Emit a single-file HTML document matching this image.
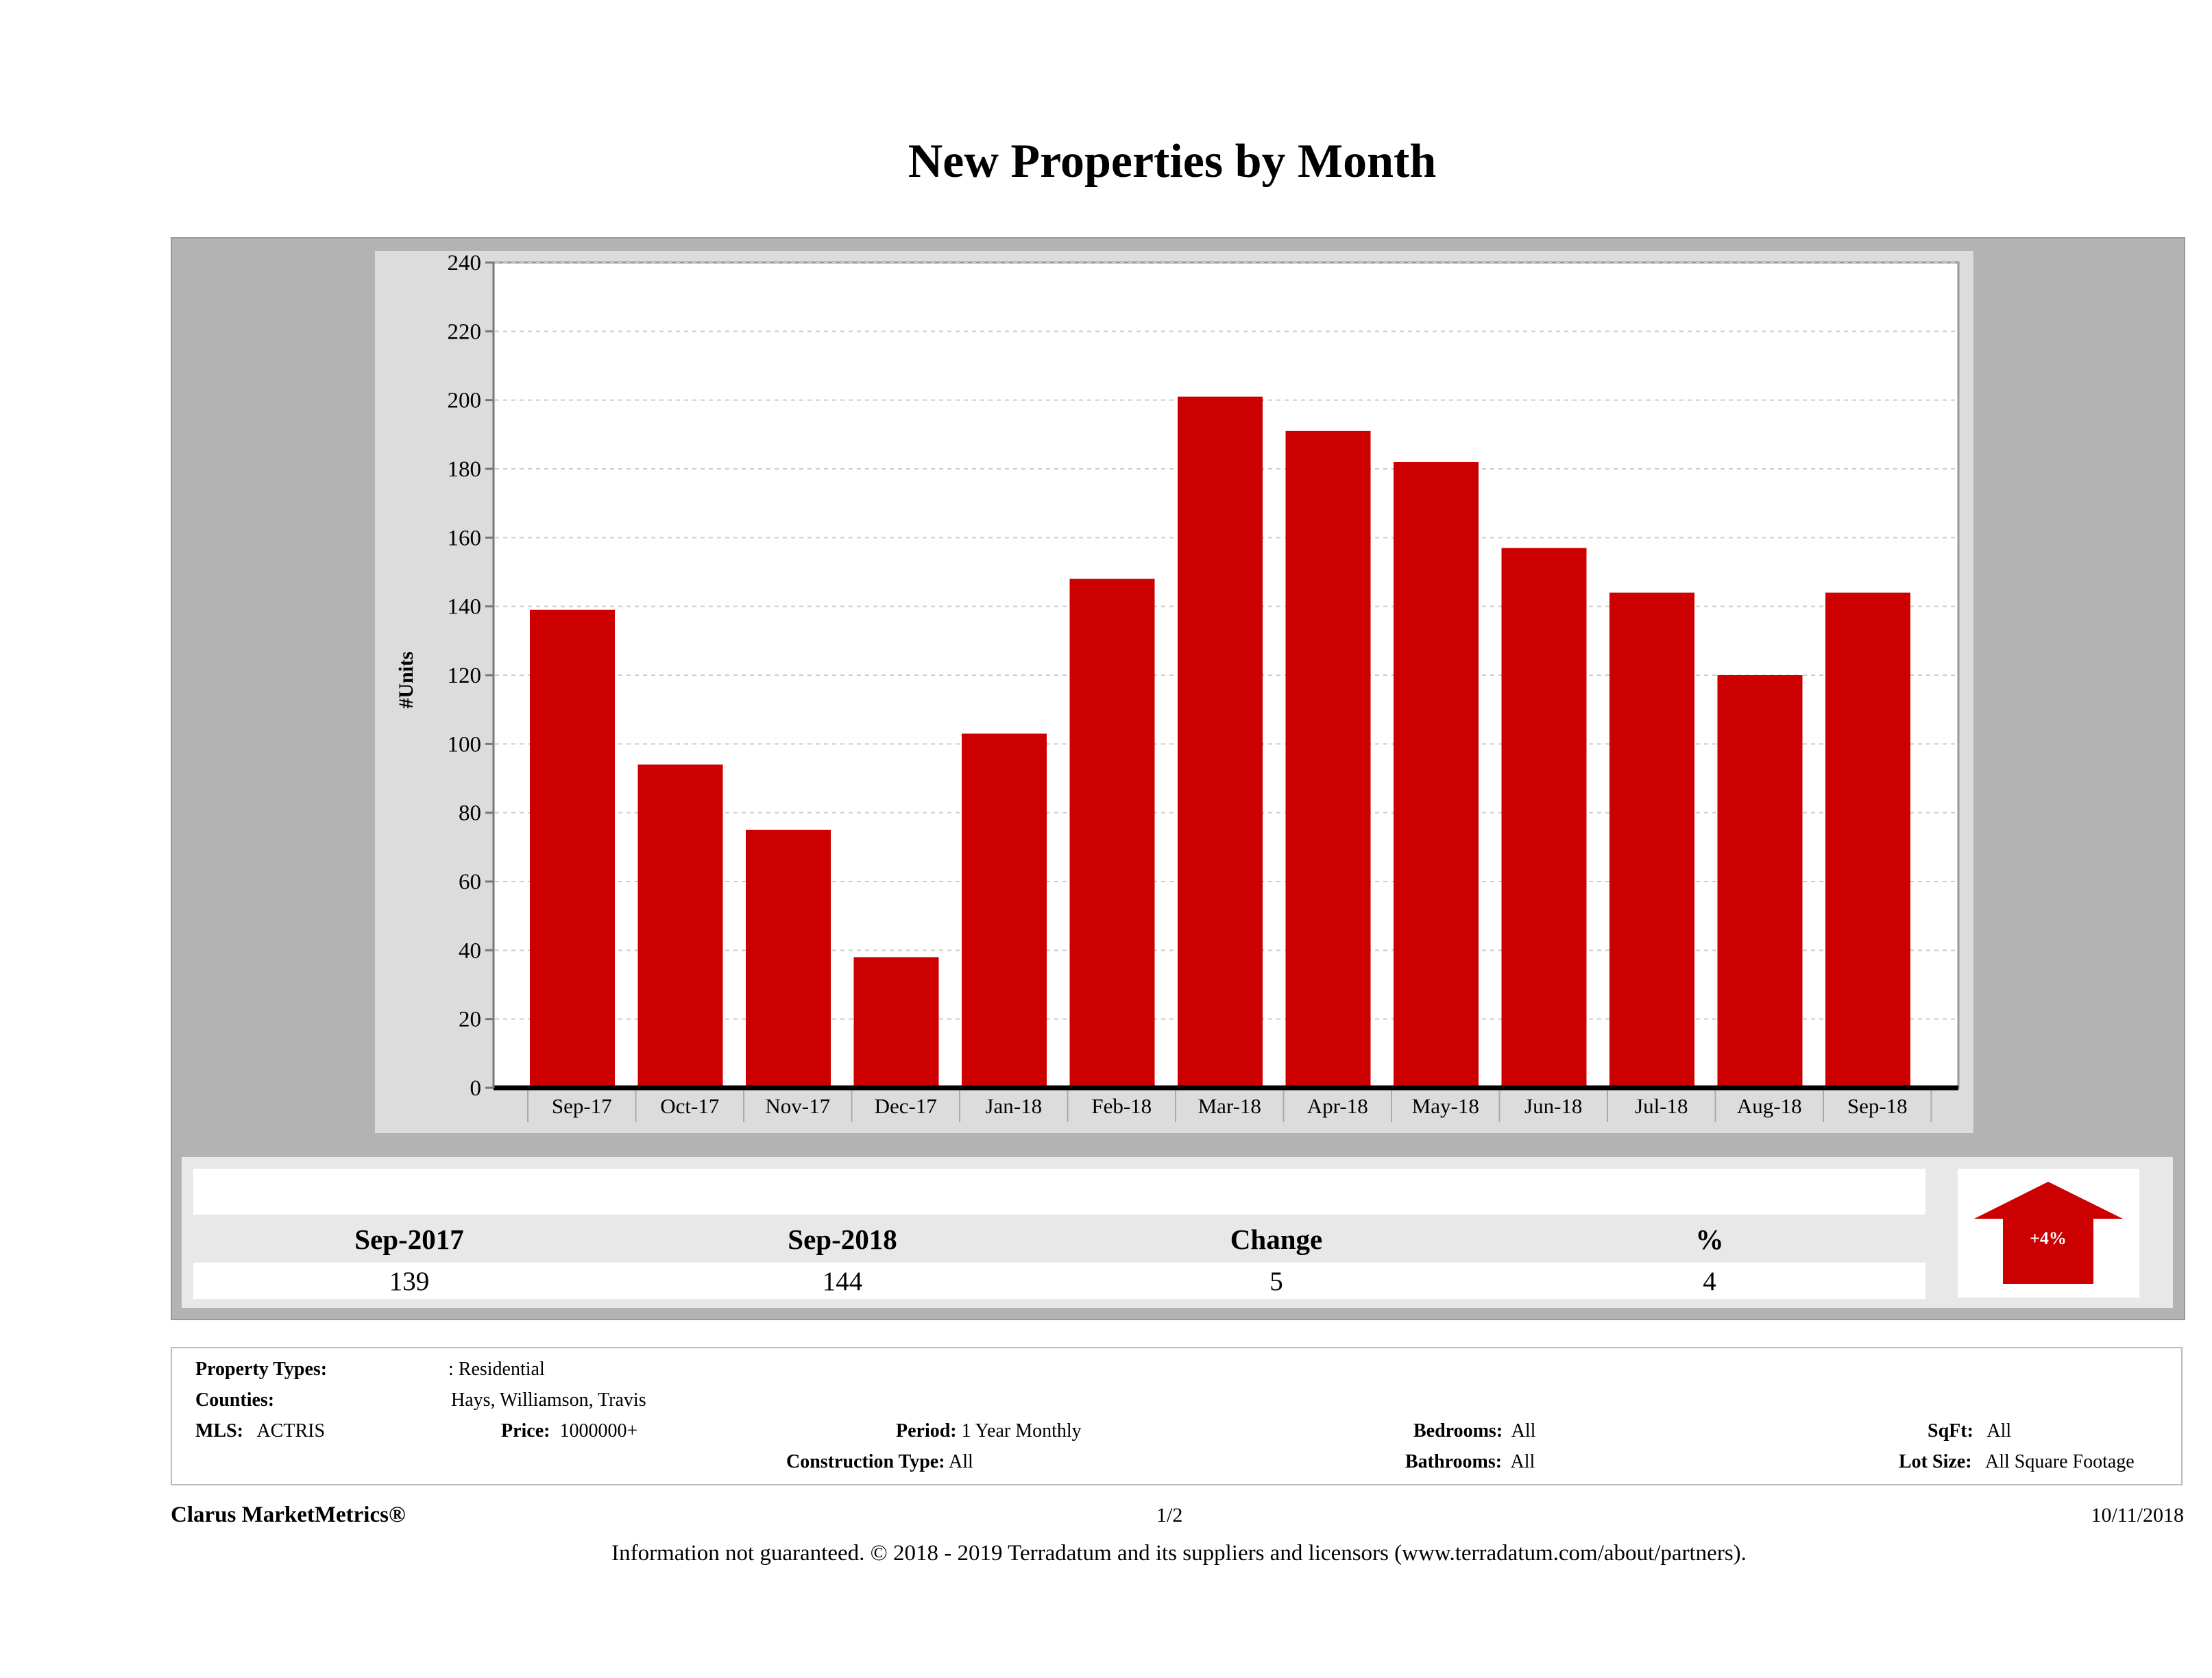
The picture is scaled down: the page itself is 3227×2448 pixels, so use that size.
<!DOCTYPE html>
<html><head><meta charset="utf-8">
<style>
body{margin:0;width:3227px;height:2448px;background:#fff;position:relative;overflow:hidden;font-family:"Liberation Serif",serif;color:#000}
.abs{position:absolute}
</style></head>
<body>
<div class="abs" style="left:0;width:3420px;top:196px;text-align:center;font-size:70px;font-weight:bold;">New Properties by Month</div>
<div class="abs" style="left:249px;top:346px;width:2935px;height:1576px;background:#b3b3b3;border:2px solid #999;"></div>
<svg class="abs" style="left:0;top:0" width="3227" height="2448" id="chart">
<rect x="547" y="366" width="2332" height="1287" fill="#dcdcdc"/>
<rect x="720" y="383" width="2137" height="1204" fill="#fff" stroke="#999" stroke-width="3"/>
<text transform="translate(602,992) rotate(-90)" text-anchor="middle" font-size="30" font-weight="bold" font-family="Liberation Serif">#Units</text>
</svg>
<script>
const categories=["Sep-17","Oct-17","Nov-17","Dec-17","Jan-18","Feb-18","Mar-18","Apr-18","May-18","Jun-18","Jul-18","Aug-18","Sep-18"];
const values=[139,94,75,38,103,148,201,191,182,157,144,120,144];
const yTicks=[0,20,40,60,80,100,120,140,160,180,200,220,240];
const svg=document.getElementById('chart');
const NS='http://www.w3.org/2000/svg';
const y0=1587,yTop=383,yMax=240;
function yScale(v){return y0-(y0-yTop)*v/yMax;}
const bandStart=770,bandW=157.5,barW=124;
function xBand(i){return bandStart+i*bandW;}
function mk(t,a){const e=document.createElementNS(NS,t);for(const k in a)e.setAttribute(k,a[k]);svg.appendChild(e);return e;}
yTicks.forEach(v=>{
  const y=yScale(v);
  if(v>0){const g=mk('line',{x1:722,x2:2855,y1:y,y2:y,stroke:'#ccc','stroke-width':2,'stroke-dasharray':'6,6'});
  
  }
  const tk=mk('line',{x1:708,x2:720,y1:y,y2:y,stroke:'#777','stroke-width':3});
  
  
  const t=mk('text',{x:702,y:y+11,'text-anchor':'end','font-size':33,'font-family':'Liberation Serif'});
  t.textContent=v;
  
  
});
categories.forEach((c,i)=>{
  const x=xBand(i);
  const r=mk('rect',{x:x+3,y:yScale(values[i]),width:barW,height:y0-yScale(values[i]),fill:'#cc0000'});
  
  
  const s=mk('line',{x1:x,x2:x,y1:y0,y2:y0+50,stroke:'#aaa','stroke-width':2});
  
  
  const t=mk('text',{x:x+bandW/2,y:1624,'text-anchor':'middle','font-size':31,'font-family':'Liberation Serif'});
  t.textContent=c;
  
  
});
const ls=mk('line',{x1:xBand(categories.length),x2:xBand(categories.length),y1:y0,y2:y0+50,stroke:'#aaa','stroke-width':2});


const ax=mk('line',{x1:720,x2:2857,y1:y0,y2:y0,stroke:'#000','stroke-width':7});


const ay=mk('line',{x1:720,x2:720,y1:yTop,y2:y0,stroke:'#777','stroke-width':3});


</script>
<div class="abs" style="left:265px;top:1688px;width:2905px;height:220px;background:#e8e8e8;"></div>
<div class="abs" style="left:282px;top:1705px;width:2527px;height:67px;background:#fff;"></div>
<div class="abs" style="left:282px;top:1842px;width:2527px;height:53px;background:#fff;"></div>
<div class="abs" style="left:397px;width:400px;top:1784px;text-align:center;font-size:41px;font-weight:bold;">Sep-2017</div>
<div class="abs" style="left:1029px;width:400px;top:1784px;text-align:center;font-size:41px;font-weight:bold;">Sep-2018</div>
<div class="abs" style="left:1662px;width:400px;top:1784px;text-align:center;font-size:41px;font-weight:bold;">Change</div>
<div class="abs" style="left:2294px;width:400px;top:1784px;text-align:center;font-size:41px;font-weight:bold;">%</div>
<div class="abs" style="left:397px;width:400px;top:1847px;text-align:center;font-size:39px;">139</div>
<div class="abs" style="left:1029px;width:400px;top:1847px;text-align:center;font-size:39px;">144</div>
<div class="abs" style="left:1662px;width:400px;top:1847px;text-align:center;font-size:39px;">5</div>
<div class="abs" style="left:2294px;width:400px;top:1847px;text-align:center;font-size:39px;">4</div>
<svg class="abs" style="left:2856px;top:1705px" width="265" height="188">
<rect x="0" y="0" width="265" height="188" fill="#fff"/>
<polygon points="132,19 241,73 198,73 198,168 66,168 66,73 24,73" fill="#cc0000"/>
<text x="132" y="110" text-anchor="middle" fill="#fff" font-size="26" font-weight="bold" font-family="Liberation Serif">+4%</text>
</svg>
<div class="abs" style="left:249px;top:1965px;width:2935px;height:202px;border:2px solid #bbb;box-sizing:border-box;"></div>
<div class="abs" style="font-size:28px;left:0;top:0;width:3227px;">
<div class="abs" style="left:285px;top:1982px;font-weight:bold;">Property Types:</div>
<div class="abs" style="left:654px;top:1982px;">: Residential</div>
<div class="abs" style="left:285px;top:2027px;font-weight:bold;">Counties:</div>
<div class="abs" style="left:658px;top:2027px;">Hays, Williamson, Travis</div>
<div class="abs" style="left:285px;top:2072px;"><b>MLS:</b>&nbsp;&nbsp; ACTRIS</div>
<div class="abs" style="left:731px;top:2072px;"><b>Price:</b>&nbsp; 1000000+</div>
<div class="abs" style="left:1307px;top:2072px;"><b>Period:</b> 1 Year Monthly</div>
<div class="abs" style="left:1147px;top:2117px;"><b>Construction Type:</b> All</div>
<div class="abs" style="left:2062px;top:2072px;"><b>Bedrooms:</b>&nbsp; All</div>
<div class="abs" style="left:2050px;top:2117px;"><b>Bathrooms:</b>&nbsp; All</div>
<div class="abs" style="left:2812px;top:2072px;"><b>SqFt:</b>&nbsp;&nbsp; All</div>
<div class="abs" style="left:2770px;top:2117px;"><b>Lot Size:</b>&nbsp;&nbsp; All Square Footage</div>
<div class="abs" style="left:249px;top:2192px;font-weight:bold;font-size:33px;">Clarus MarketMetrics®</div>
<div class="abs" style="left:1687px;top:2194px;font-size:30px;">1/2</div>
<div class="abs" style="right:41px;top:2194px;font-size:30px;">10/11/2018</div>
<div class="abs" style="left:0;width:3440px;top:2248px;text-align:center;font-size:33px;">Information not guaranteed. © 2018 - 2019 Terradatum and its suppliers and licensors (www.terradatum.com/about/partners).</div>
</div>
</body></html>
